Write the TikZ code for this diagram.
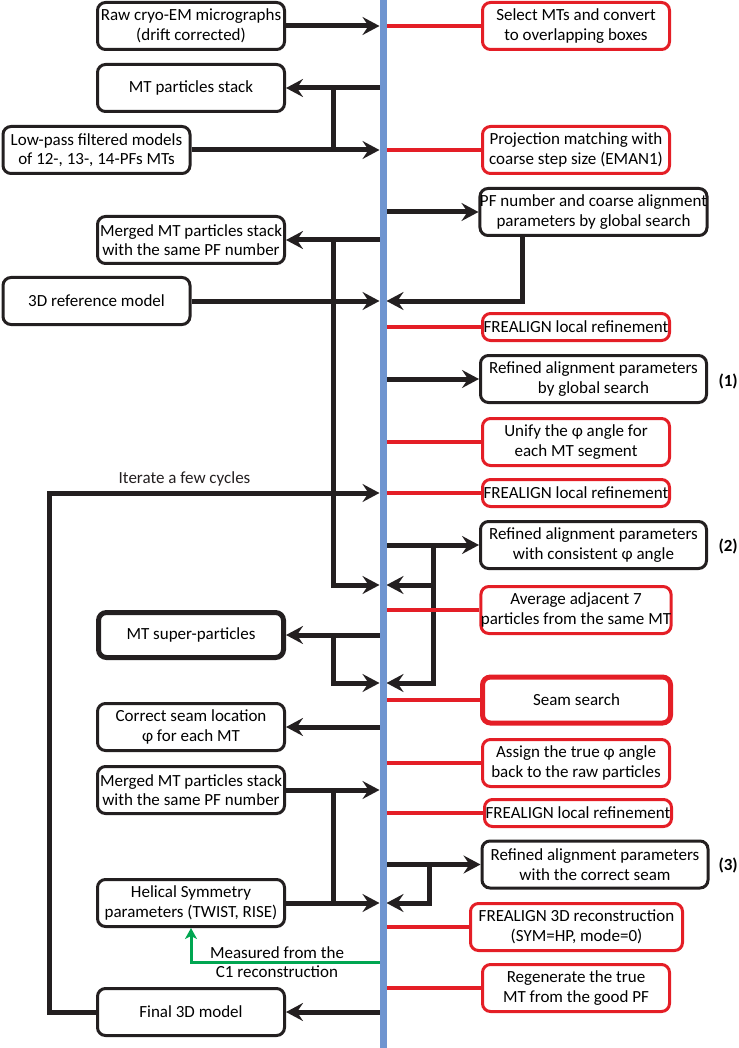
\documentclass[tikz,border=0pt]{standalone}
\usepackage{fontspec}
\setmainfont{Carlito}
\usetikzlibrary{arrows.meta}
\definecolor{ink}{RGB}{35,31,32}
\definecolor{redln}{RGB}{228,30,38}
\definecolor{spinec}{RGB}{111,149,208}
\definecolor{grn}{RGB}{0,166,81}
\begin{document}
\begin{tikzpicture}[x=1pt,y=-1pt,
    font=\fontsize{17}{19.5}\selectfont,
    lbox/.style={draw=ink,line width=3pt,rounded corners=8pt,align=center,
      minimum width=187pt,minimum height=47pt,inner sep=0pt},
    rbox/.style={lbox,draw=redln},
    sbox/.style={rbox,minimum height=27pt},
    bbox/.style={lbox,minimum width=226pt},
    ln/.style={ink,line width=5pt},
    arr/.style={ln,-{Stealth[length=17pt,width=18pt,inset=6pt]}},
    rl/.style={redln,line width=3.5pt},
    garr/.style={grn,line width=3pt,-{Stealth[length=11pt,width=12pt,inset=3pt]}},
    tag/.style={font=\fontsize{17}{19.5}\selectfont\bfseries,anchor=west}]
  \useasboundingbox (0,0) rectangle (738,1048);
  \coordinate (spT) at (383,0);
  \coordinate (spB) at (383,1048);
  \coordinate (spL) at (379.5,0);
  \coordinate (spR) at (386.5,0);
  \coordinate (jL) at (333,0);
  \coordinate (jA) at (522,0);
  \coordinate (jB) at (433,0);
  \coordinate (jC) at (429,0);
  \coordinate (loopx) at (49,0);
  \coordinate (yA) at (0,585);
  \coordinate (yB) at (0,683);
  \coordinate (yG) at (0,962);

  \node[lbox] (raw) at (191,26) {Raw cryo-EM micrographs\\(drift corrected)};
  \node[lbox] (stack) at (191,88) {MT particles stack};
  \node[lbox] (lowpass) at (96.5,150) {Low-pass filtered models\\of 12-, 13-, 14-PFs MTs};
  \node[lbox] (merged) at (191,240) {Merged MT particles stack\\with the same PF number};
  \node[lbox] (ref) at (96.5,301) {3D reference model};
  \node[lbox,line width=5pt,minimum width=185pt,minimum height=45pt] (super) at (191,635) {MT super-particles};
  \node[lbox] (seamloc) at (191,727) {Correct seam location\\φ for each MT};
  \node[lbox] (merged2) at (191,790) {Merged MT particles stack\\with the same PF number};
  \node[lbox] (helical) at (191,903) {Helical Symmetry\\parameters (TWIST, RISE)};
  \node[lbox] (final) at (191,1012) {Final 3D model};

  \node[rbox] (select) at (576,26) {Select MTs and convert\\to overlapping boxes};
  \node[rbox] (proj) at (576,150) {Projection matching with\\coarse step size (EMAN1)};
  \node[sbox] (frl1) at (576,327) {FREALIGN local refinement};
  \node[rbox] (unify) at (576,442) {Unify the φ angle for\\each MT segment};
  \node[sbox] (frl2) at (576,493) {FREALIGN local refinement};
  \node[rbox] (avg) at (576,610) {Average adjacent 7\\particles from the same MT};
  \node[rbox,line width=5pt,minimum width=188pt,minimum height=46pt] (seam) at (576.5,700) {Seam search};
  \node[rbox] (assign) at (576,763) {Assign the true φ angle\\back to the raw particles};
  \node[sbox] (frl3) at (578,813) {FREALIGN local refinement};
  \node[rbox,minimum width=212pt] (fr3d) at (576.5,927) {FREALIGN 3D reconstruction\\(SYM=HP, mode=0)};
  \node[rbox] (regen) at (576,988) {Regenerate the true\\MT from the good PF};

  \node[bbox] (pfnum) at (593.5,212) {PF number and coarse alignment\\parameters by global search};
  \node[bbox] (ref1) at (593.5,379) {Refined alignment parameters\\by global search};
  \node[bbox] (ref2) at (593.5,545) {Refined alignment parameters\\with consistent φ angle};
  \node[bbox] (ref3) at (595,864.5) {Refined alignment parameters\\with the correct seam};
  \node[tag] (t1) at (715,381) {(1)};
  \node[tag] (t2) at (715,546) {(2)};
  \node[tag] (t3) at (715,865) {(3)};

  \draw[arr] (raw.east) -- (raw.east -| spL);
  \draw[arr] (stack.east -| spT) -- (stack.east);
  \draw[ln] (stack.east -| jL) -- (lowpass.east -| jL);
  \draw[arr] (lowpass.east) -- (lowpass.east -| spL);
  \draw[arr] (pfnum.west -| spT) -- (pfnum.west);
  \draw[arr] (merged.east -| spT) -- (merged.east);
  \draw[arr] (merged.east -| jL) |- (yA -| spL);
  \draw[arr] (ref.east) -- (ref.east -| spL);
  \draw[arr] (pfnum.south -| jA) |- (ref.east -| spR);
  \draw[arr] (ref1.west -| spT) -- (ref1.west);
  \draw[arr] (final.west) -| (loopx |- frl2.west)
    -- node[above=1pt,pos=.41] (iter) {Iterate a few cycles} (frl2.west -| spL);
  \draw[arr] (ref2.west -| spT) -- (ref2.west);
  \draw[arr] (ref2.west -| jB) |- (yA -| spR);
  \draw[arr] (ref2.west -| jB) |- (yB -| spR);
  \draw[arr] (super.east -| spT) -- (super.east);
  \draw[arr] (super.east -| jL) |- (yB -| spL);
  \draw[arr] (seamloc.east -| spT) -- (seamloc.east);
  \draw[arr] (merged2.east) -- (merged2.east -| spL);
  \draw[ln] (merged2.east -| jL) -- (helical.east -| jL);
  \draw[arr] (helical.east) -- (helical.east -| spL);
  \draw[arr] (ref3.west -| spT) -- (ref3.west);
  \draw[arr] (ref3.west -| jC) |- (helical.east -| spR);
  \draw[garr] (yG -| spL) -| (helical.south);
  \node[align=center] (meas) at (277,962) {Measured from the\\C1 reconstruction};
  \draw[arr] (final.east -| spT) -- (final.east);
  \foreach \n in {select,proj,frl1,unify,frl2,avg,seam,assign,frl3,fr3d,regen}
    \draw[rl] (\n.west -| spR) -- (\n.west);
  \draw[spinec,line width=7pt] (spT) -- (spB);
\end{tikzpicture}
\end{document}
